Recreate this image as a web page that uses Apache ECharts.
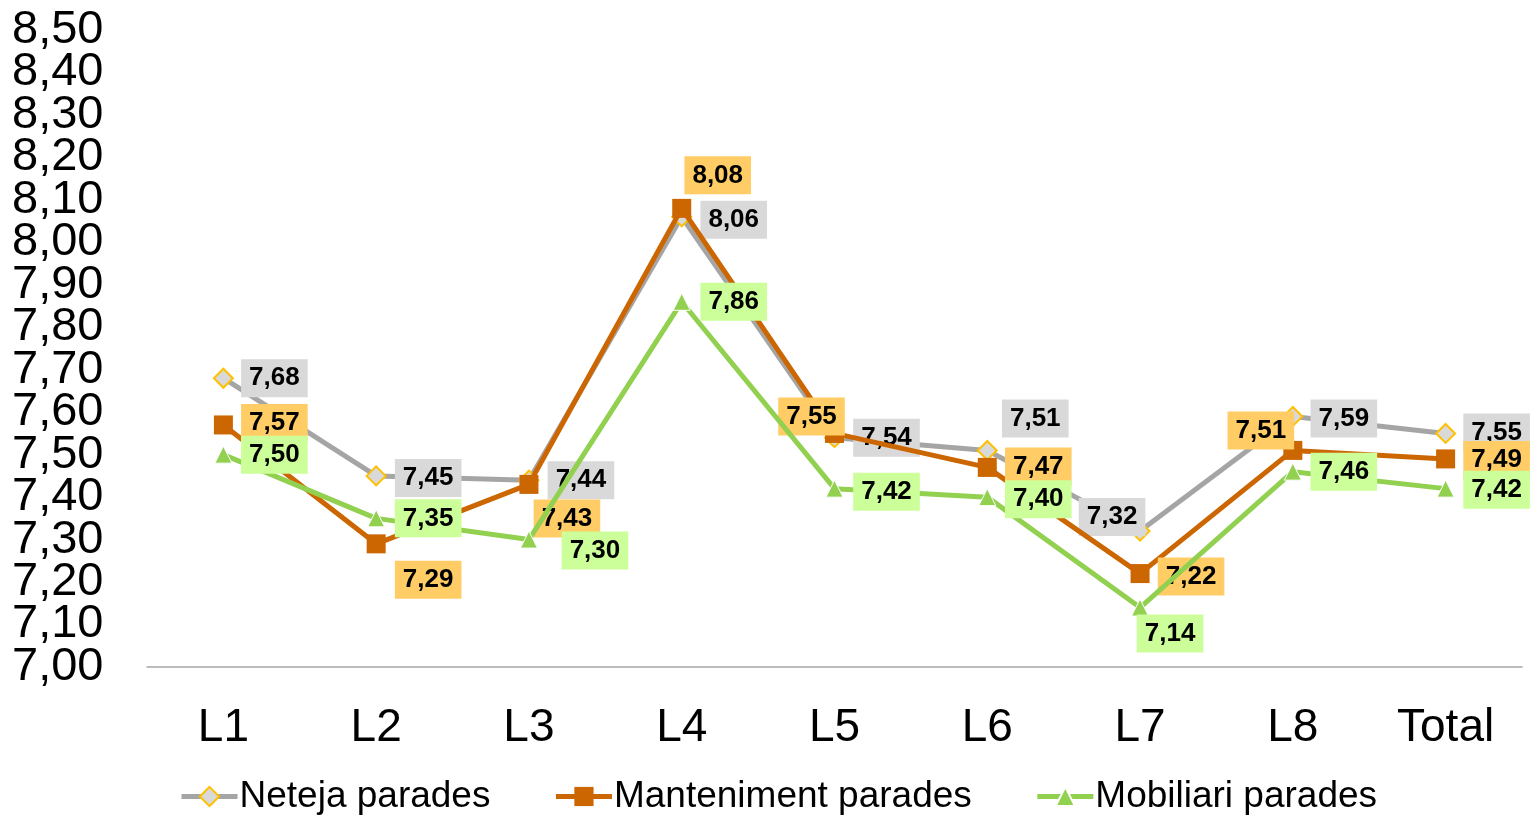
<!DOCTYPE html>
<html>
<head>
<meta charset="utf-8">
<script src="https://cdn.jsdelivr.net/npm/echarts@6/dist/echarts.min.js"></script>
<style>
  html, body { margin: 0; padding: 0; background: #fff; }
  #chart { width: 1532px; height: 815px; }
</style>
</head>
<body>
<div id="chart"></div>
<script>
// Categories and scores per line
const categories = ['L1', 'L2', 'L3', 'L4', 'L5', 'L6', 'L7', 'L8', 'Total'];
const netejaParades = [7.68, 7.45, 7.44, 8.06, 7.54, 7.51, 7.32, 7.59, 7.55];
const mantenimentParades = [7.57, 7.29, 7.43, 8.08, 7.55, 7.47, 7.22, 7.51, 7.49];
const mobiliariParades = [7.50, 7.35, 7.30, 7.86, 7.42, 7.40, 7.14, 7.46, 7.42];

// Value axis range and step
const yMin = 7.0;
const yMax = 8.5;
const yStep = 0.1;

// Label placement (pixel offsets of each value box from its point)
const netejaLabelOffsets = [[51, 0], [52, 2], [52, 0], [52, 3], [52, 0], [48, -32], [-28, -14], [51, 2], [51, -1]];
const mantenimentLabelOffsets = [[51, -2], [52, 36], [38, 34], [36, -33], [-23, -17], [51, -1], [51, 3], [-32, -20], [51, 1]];
const mobiliariLabelOffsets = [[51, 0], [52, 0], [66, 11], [52, 0], [52, 3], [51, 2], [30, 26], [51, 0], [51, 1]];

const fmt = v => Number(v).toFixed(2).replace('.', ',');

function withOffsets(values, offsets) {
  return values.map((v, i) => ({ value: v, label: { offset: offsets[i] } }));
}

function labelStyle(bg) {
  return {
    show: true,
    position: 'inside',
    formatter: p => fmt(p.value),
    fontFamily: 'Liberation Sans, Arial, sans-serif',
    fontSize: 26,
    fontWeight: 'bold',
    color: '#000',
    lineHeight: 26,
    backgroundColor: bg,
    padding: [6, 8]
  };
}

const yLabelStyle = {
  fontSize: 47,
  color: '#000',
  align: 'left',
  fontFamily: 'Liberation Sans, Arial, sans-serif',
  formatter: v => fmt(v)
};

const chart = echarts.init(document.getElementById('chart'), null, { renderer: 'canvas' });

chart.setOption({
  animation: false,
  backgroundColor: '#fff',
  textStyle: { fontFamily: 'Liberation Sans, Arial, sans-serif' },
  grid: { left: 147, right: 10, top: 30, bottom: 148, containLabel: false },
  legend: {
    left: 174,
    top: 773,
    itemWidth: 56,
    itemHeight: 24,
    itemGap: 63,
    lineStyle: { width: 5 },
    textStyle: { fontSize: 37, color: '#000', fontFamily: 'Liberation Sans, Arial, sans-serif', padding: [0, 0, 0, -3] },
    data: ['Neteja parades', 'Manteniment parades', 'Mobiliari parades']
  },
  xAxis: {
    type: 'category',
    data: categories,
    boundaryGap: true,
    axisLine: { lineStyle: { color: '#A6A6A6', width: 1.5 } },
    axisTick: { show: false },
    axisLabel: { fontSize: 46, color: '#000', margin: 38 }
  },
  yAxis: [
    {
      // inner ticks 7,10 … 8,40
      type: 'value',
      min: yMin,
      max: yMax,
      interval: yStep,
      axisLine: { show: false },
      axisTick: { show: false },
      splitLine: { show: false },
      axisLabel: Object.assign({ margin: 135, showMinLabel: false, showMaxLabel: false }, yLabelStyle)
    },
    {
      // end ticks 7,00 and 8,50 (kept on their own axis so they are never dropped)
      type: 'value',
      min: yMin,
      max: yMax,
      interval: yMax - yMin,
      position: 'right',
      offset: -1510,
      axisLine: { show: false },
      axisTick: { show: false },
      splitLine: { show: false },
      axisLabel: Object.assign({ margin: 0 }, yLabelStyle)
    }
  ],
  series: [
    {
      name: 'Neteja parades',
      type: 'line',
      data: withOffsets(netejaParades, netejaLabelOffsets),
      symbol: 'diamond',
      symbolSize: 19,
      lineStyle: { color: '#A5A5A5', width: 5 },
      itemStyle: { color: '#D9D9D9', borderColor: '#FFC000', borderWidth: 2 },
      label: labelStyle('#D9D9D9'),
      z: 2
    },
    {
      name: 'Manteniment parades',
      type: 'line',
      data: withOffsets(mantenimentParades, mantenimentLabelOffsets),
      symbol: 'rect',
      symbolSize: 19,
      lineStyle: { color: '#CC6600', width: 5 },
      itemStyle: { color: '#CC6600', borderColor: '#CC6600', borderWidth: 0 },
      label: labelStyle('#FFCC66'),
      z: 3
    },
    {
      name: 'Mobiliari parades',
      type: 'line',
      data: withOffsets(mobiliariParades, mobiliariLabelOffsets),
      symbol: 'triangle',
      symbolSize: 17,
      lineStyle: { color: '#92D050', width: 5 },
      itemStyle: { color: '#92D050', borderColor: '#FFFFFF', borderWidth: 1 },
      label: labelStyle('#CCFF99'),
      z: 4
    }
  ]
});
</script>
</body>
</html>
